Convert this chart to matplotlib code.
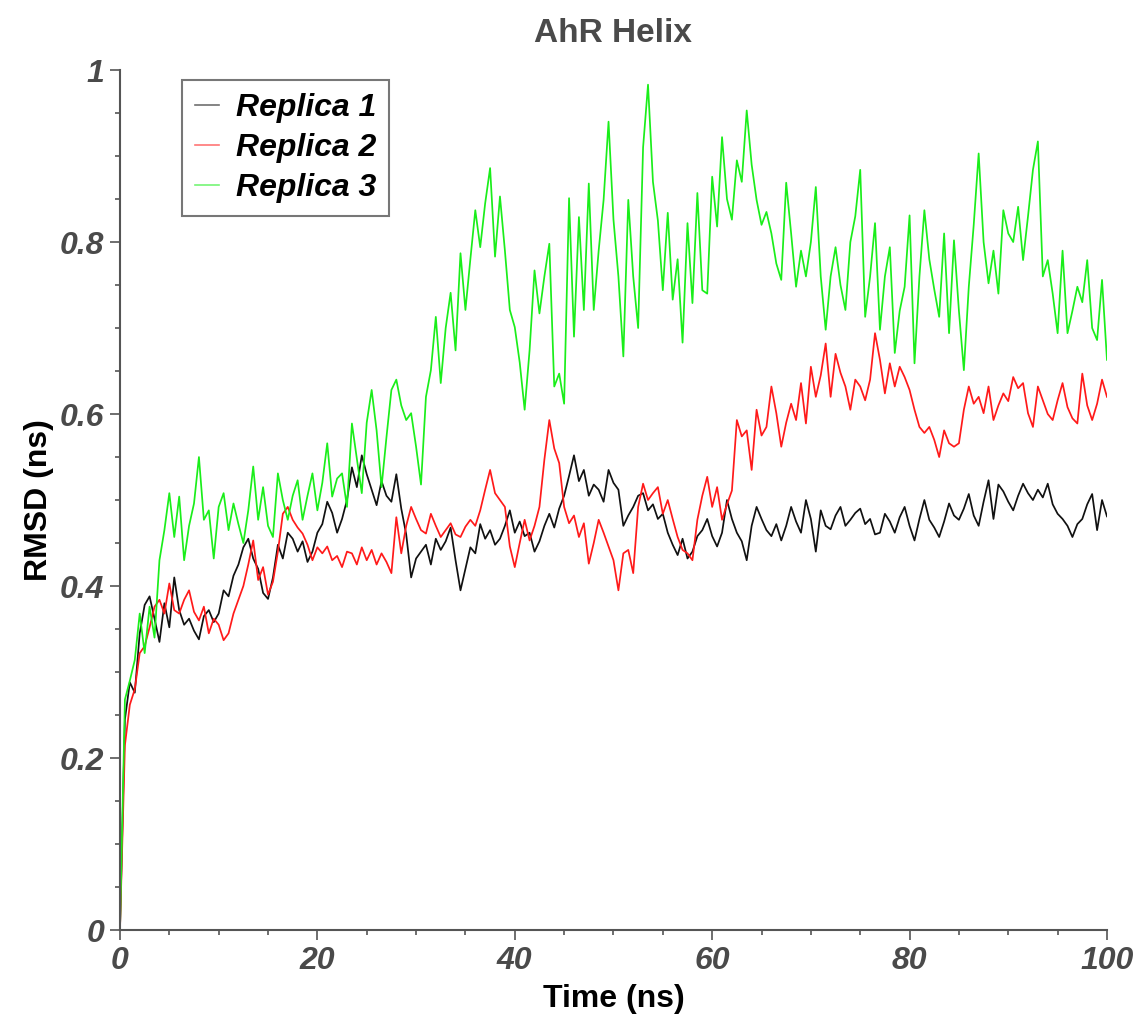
import numpy as np
import matplotlib
matplotlib.use('Agg')
import matplotlib.pyplot as plt
from matplotlib.ticker import MultipleLocator, FuncFormatter

plt.rcParams['font.family'] = ['Liberation Sans', 'DejaVu Sans']

# time axis: one frame every 0.5 ns, 0 -> 100 ns
time = np.arange(0, 100.25, 0.5)

# RMSD values (nm x 1000), 10 per row = 5 ns
replica1 = [
    0, 245, 288, 276, 345, 378, 388, 362, 335, 380,
    352, 410, 372, 355, 362, 348, 338, 365, 372, 358,
    368, 395, 388, 412, 425, 445, 455, 432, 420, 392,
    385, 410, 448, 432, 462, 455, 440, 452, 428, 440,
    462, 472, 498, 485, 462, 478, 500, 538, 515, 552,
    530, 512, 494, 522, 505, 498, 530, 490, 460, 410,
    432, 440, 448, 425, 455, 442, 452, 468, 430, 395,
    420, 445, 438, 472, 455, 465, 448, 455, 470, 488,
    462, 475, 458, 462, 440, 452, 470, 484, 468, 490,
    505, 528, 552, 522, 535, 505, 518, 512, 498, 535,
    520, 512, 470, 482, 492, 505, 508, 488, 495, 478,
    484, 462, 448, 436, 455, 432, 440, 458, 465, 478,
    458, 446, 462, 500, 478, 462, 452, 430, 470, 492,
    478, 465, 458, 472, 453, 470, 492, 475, 462, 500,
    478, 440, 488, 470, 466, 482, 492, 470, 477, 485,
    490, 472, 478, 460, 462, 484, 475, 462, 480, 492,
    470, 453, 478, 500, 477, 468, 457, 475, 496, 482,
    477, 490, 507, 482, 470, 498, 523, 478, 518, 510,
    498, 488, 505, 519, 508, 500, 512, 503, 519, 495,
    484, 478, 470, 457, 472, 478, 495, 507, 465, 500,
    481,
]
replica2 = [
    0, 215, 262, 280, 322, 330, 352, 376, 384, 368,
    403, 372, 368, 384, 395, 370, 360, 376, 345, 362,
    355, 337, 345, 368, 384, 400, 425, 453, 407, 422,
    390, 405, 440, 484, 492, 477, 468, 461, 448, 430,
    445, 438, 446, 430, 435, 422, 440, 438, 425, 445,
    430, 442, 425, 438, 428, 415, 480, 438, 470, 492,
    478, 465, 461, 484, 470, 457, 465, 473, 460, 457,
    469, 477, 470, 488, 512, 535, 508, 500, 492, 446,
    422, 450, 477, 453, 470, 492, 547, 593, 560, 543,
    492, 473, 482, 457, 473, 426, 450, 477, 462, 446,
    430, 395, 438, 442, 415, 492, 519, 500, 508, 515,
    484, 500, 478, 457, 442, 438, 430, 477, 505, 527,
    492, 515, 477, 495, 511, 593, 574, 581, 535, 605,
    575, 585, 632, 601, 562, 590, 612, 593, 636, 589,
    655, 620, 645, 682, 620, 670, 648, 632, 605, 640,
    632, 616, 640, 694, 663, 624, 659, 632, 655, 643,
    628, 605, 585, 578, 585, 570, 550, 581, 566, 562,
    566, 605, 632, 612, 620, 601, 632, 593, 610, 624,
    615, 643, 630, 636, 601, 585, 632, 616, 600, 593,
    616, 636, 608, 595, 589, 647, 610, 593, 612, 640,
    620,
]
replica3 = [
    0, 268, 290, 314, 368, 322, 376, 340, 430, 465,
    508, 457, 504, 430, 470, 496, 550, 477, 488, 432,
    492, 508, 465, 496, 472, 450, 488, 539, 477, 515,
    470, 457, 531, 500, 477, 505, 523, 477, 505, 531,
    488, 520, 566, 504, 525, 531, 492, 589, 548, 508,
    590, 628, 581, 515, 573, 628, 640, 610, 593, 601,
    562, 518, 620, 651, 713, 636, 700, 741, 674, 787,
    721, 780, 837, 794, 845, 886, 783, 853, 790, 721,
    701, 660, 605, 674, 767, 717, 760, 798, 632, 647,
    612, 851, 690, 829, 721, 868, 721, 790, 849, 940,
    826, 760, 667, 849, 760, 700, 910, 983, 870, 825,
    744, 834, 733, 780, 683, 822, 729, 857, 744, 740,
    876, 818, 922, 850, 826, 895, 870, 953, 890, 849,
    820, 835, 810, 775, 756, 869, 810, 748, 790, 760,
    800, 864, 760, 698, 760, 794, 750, 721, 800, 830,
    884, 713, 760, 822, 698, 760, 794, 671, 720, 748,
    831, 659, 760, 837, 780, 745, 713, 810, 694, 802,
    720, 651, 748, 820, 903, 800, 752, 790, 740, 837,
    810, 800, 841, 779, 830, 884, 917, 760, 779, 740,
    694, 790, 694, 720, 748, 730, 779, 700, 686, 756,
    663,
]
labels = ['Replica 1', 'Replica 2', 'Replica 3']
colors = ['#111111', '#ff1a1a', '#1aee1a']

fig = plt.figure(figsize=(11.47, 10.21), dpi=100)
ax = fig.add_axes([0.1046, 0.0891, 0.8605, 0.8423])

for vals, lab, col in zip([replica1, replica2, replica3], labels, colors):
    ax.plot(time, np.array(vals) / 1000.0, color=col, lw=1.25, label=lab)

ax.set_xlim(0, 100); ax.set_ylim(0, 1)
ax.xaxis.set_major_locator(MultipleLocator(20)); ax.xaxis.set_minor_locator(MultipleLocator(5))
ax.yaxis.set_major_locator(MultipleLocator(0.2)); ax.yaxis.set_minor_locator(MultipleLocator(0.05))
fmt = FuncFormatter(lambda v, p: f'{v:g}')
ax.xaxis.set_major_formatter(fmt); ax.yaxis.set_major_formatter(fmt)

for s in ['top', 'right']:
    ax.spines[s].set_visible(False)
for s in ['left', 'bottom']:
    ax.spines[s].set_color('#555555'); ax.spines[s].set_linewidth(1.5)
ax.tick_params(which='major', length=7.5, width=1.2, color='#555555', pad=4,
               labelsize=23, labelcolor='#4a4a4a')
ax.tick_params(which='minor', length=3.8, width=1.2, color='#555555')
for t in ax.get_xticklabels() + ax.get_yticklabels():
    t.set_fontweight('bold'); t.set_fontstyle('italic')

ax.set_xlabel('Time (ns)', fontsize=23, fontweight='bold', labelpad=6)
ax.set_ylabel('RMSD (ns)', fontsize=23, fontweight='bold', labelpad=4)
ax.set_title('AhR Helix', fontsize=24, fontweight='bold', color='#4a4a4a', pad=20)

leg = ax.legend(loc='upper left', bbox_to_anchor=(0.1587, 0.9216), bbox_transform=fig.transFigure,
                borderaxespad=0, fancybox=False, edgecolor='#777777', framealpha=1,
                borderpad=0.4, handlelength=0.75, handletextpad=0.55, labelspacing=0.32,
                prop={'size': 23, 'weight': 'bold', 'style': 'italic'})
leg.get_frame().set_linewidth(1.5)
for h in leg.get_lines():
    h.set_linewidth(1.2); h.set_alpha(0.6)

fig.savefig('out.png', dpi=100)
